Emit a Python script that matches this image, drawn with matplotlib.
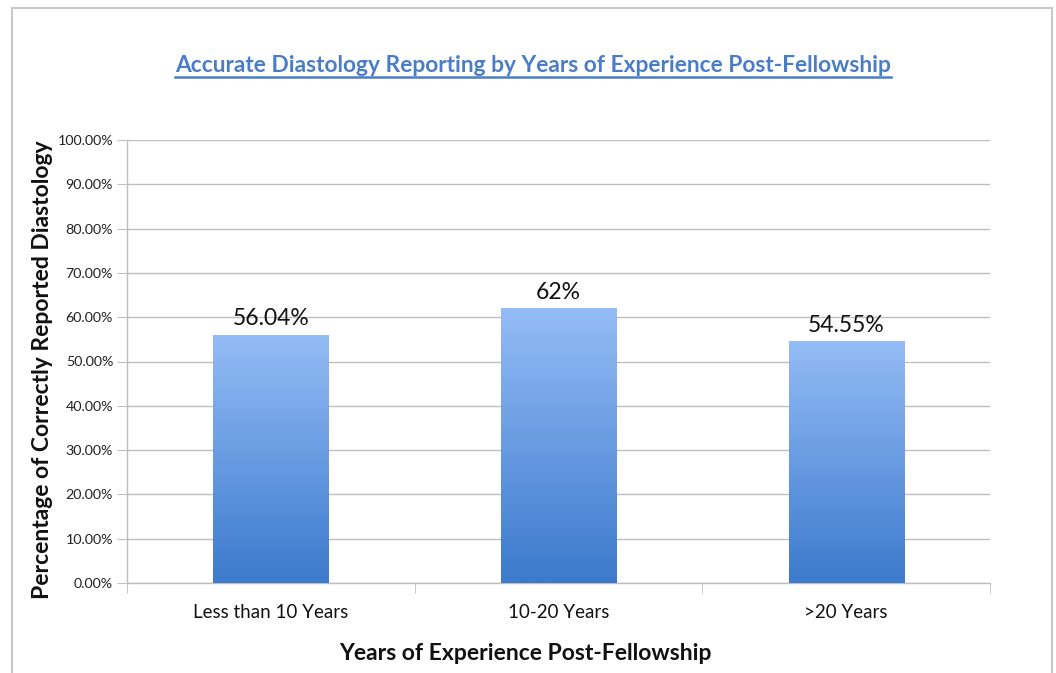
import numpy as np
import matplotlib
matplotlib.use("Agg")
import matplotlib.pyplot as plt
from matplotlib.patches import Rectangle
from matplotlib.lines import Line2D
from matplotlib.colors import LinearSegmentedColormap

categories = ["Less than 10 Years", "10-20 Years", ">20 Years"]
values = [56.04, 62.0, 54.55]
value_labels = ["56.04%", "62%", "54.55%"]
yticks = [0, 10, 20, 30, 40, 50, 60, 70, 80, 90, 100]
ytick_labels = ["%.2f%%" % v for v in yticks]

plt.rcParams['font.family'] = ['Lato', 'DejaVu Sans']

W, H = 1056, 673
fig = plt.figure(figsize=(W / 100, H / 100), dpi=100)
fig.patch.set_facecolor("white")

# outer frame
fig.patches.append(Rectangle((12 / W, -0.1), (1052 - 12) / W, (H - 8) / H + 0.1,
                             transform=fig.transFigure, fill=False,
                             edgecolor="#C8C8C8", linewidth=1.5))

ax = fig.add_axes([127 / W, (H - 583) / H, (990 - 127) / W, (583 - 140) / H])
ax.set_facecolor("white")
x = np.arange(len(categories))
bars = ax.bar(x, values, width=0.40, color="none", edgecolor="none", zorder=3)

grad = np.linspace(0, 1, 256).reshape(-1, 1)
cmap = LinearSegmentedColormap.from_list("g", ["#3C7ACD", "#94BCF6"])
for b in bars:
    x0, y0 = b.get_x(), b.get_y()
    w, h = b.get_width(), b.get_height()
    im = ax.imshow(grad, extent=(x0, x0 + w, y0, y0 + h), origin="lower",
                   cmap=cmap, aspect="auto", zorder=3)
    im.set_clip_path(b)
ax.set_xlim(-0.5, len(categories) - 0.5)
ax.set_ylim(0, 100)

for xi, v, lab in zip(x, values, value_labels):
    ax.text(xi, v + 1.2, lab, ha="center", va="bottom", fontsize=16.5, color="#111111", zorder=4)

ax.set_yticks(yticks)
ax.set_yticklabels(ytick_labels, fontsize=10.3, color="#222222")
ax.yaxis.grid(True, color="#BEBEBE", linewidth=1.0, zorder=0)
ax.set_axisbelow(True)
ax.set_xticks(x)
ax.set_xticklabels(categories, fontsize=13.5, color="#111111")
ax.tick_params(axis="x", length=0, pad=15)
ax.tick_params(axis="y", length=7, color="#BEBEBE", pad=3)
ax.set_xticks(np.arange(-0.5, len(categories)), minor=True)
ax.tick_params(axis="x", which="minor", length=7, color="#BEBEBE")
for s in ["top", "right"]:
    ax.spines[s].set_visible(False)
for s in ["left", "bottom"]:
    ax.spines[s].set_color("#BEBEBE")
    ax.spines[s].set_linewidth(1.0)

ax.set_ylabel("Percentage of Correctly Reported Diastology", fontsize=16.5, fontweight="bold",
              color="#111111")
ax.yaxis.set_label_coords(-(127 - 53) / (990 - 127), (583 - 370) / (583 - 140))
fig.text(525 / W, 1 - 653 / H, "Years of Experience Post-Fellowship", ha="center", va="center",
         fontsize=16.5, fontweight="bold", color="#111111")

title_color = "#4A7DC8"
t = fig.text(533 / W, 1 - 65 / H, "Accurate Diastology Reporting by Years of Experience Post-Fellowship",
             ha="center", va="center", fontsize=16.4, fontweight="bold", color=title_color)
fig.canvas.draw()
bb = t.get_window_extent(renderer=fig.canvas.get_renderer())
uy = (bb.y0 - 1) / H
fig.lines.append(Line2D([bb.x0 / W, bb.x1 / W], [uy, uy], transform=fig.transFigure,
                        color=title_color, linewidth=1.8))

fig.savefig("out.png", dpi=100, facecolor=fig.get_facecolor())
